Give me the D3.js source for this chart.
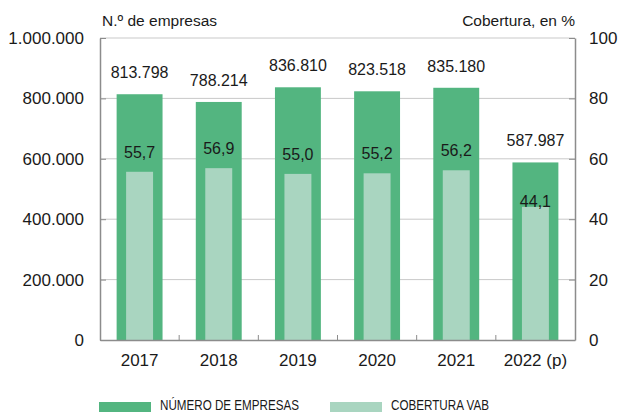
<!DOCTYPE html>
<html>
<head>
<meta charset="utf-8">
<script src="https://cdn.jsdelivr.net/npm/d3@7"></script>
<style>
  body { margin: 0; background: #fff; }
  text { font-family: "Liberation Sans", Arial, sans-serif; fill: #1a1a1a; }
</style>
</head>
<body>
<div id="chart"></div>
<script>
// Número de empresas y cobertura del VAB (%), 2017-2022
const years = ["2017", "2018", "2019", "2020", "2021", "2022 (p)"];
const empresas = [813798, 788214, 836810, 823518, 835180, 587987];
const cobertura = [55.7, 56.9, 55.0, 55.2, 56.2, 44.1];
const leftTicks = [0, 200000, 400000, 600000, 800000, 1000000];
const rightTicks = [0, 20, 40, 60, 80, 100];
const legendLabels = ["NÚMERO DE EMPRESAS", "COBERTURA VAB"];

const width = 622;
const height = 412;
const margin = { top: 38, right: 47, bottom: 72, left: 100 };

const darkGreen = "#53b580";
const lightGreen = "#a9d5c0";

const es = d3.formatLocale({ decimal: ",", thousands: ".", grouping: [3], currency: ["", " €"] });
const fmtInt = es.format(",d");
const fmtDec = es.format(".1f");

const svg = d3.select("#chart")
    .append("svg")
    .attr("width", width)
    .attr("height", height)
    .attr("viewBox", [0, 0, width, height]);

const x = d3.scaleBand()
    .domain(years)
    .range([margin.left, width - margin.right])
    .paddingInner(0.42)
    .paddingOuter(0.21);

const yLeft = d3.scaleLinear()
    .domain([0, 1000000])
    .range([height - margin.bottom, margin.top]);

const yRight = d3.scaleLinear()
    .domain([0, 100])
    .range([height - margin.bottom, margin.top]);

// gridlines
svg.append("g")
    .selectAll("line")
    .data(leftTicks.slice(1))
    .enter().append("line")
    .attr("x1", margin.left)
    .attr("x2", width - margin.right)
    .attr("y1", d => yLeft(d))
    .attr("y2", d => yLeft(d))
    .attr("stroke", "#c9c9c9")
    .attr("stroke-width", 1);

const rows = years.map((year, i) => ({ year, emp: empresas[i], cob: cobertura[i] }));

// outer bars (número de empresas)
svg.selectAll(".bar-emp")
    .data(rows)
    .enter().append("rect")
    .attr("class", "bar-emp")
    .attr("x", d => x(d.year))
    .attr("y", d => yLeft(d.emp))
    .attr("width", x.bandwidth())
    .attr("height", d => yLeft(0) - yLeft(d.emp))
    .attr("fill", darkGreen);

// inner bars (cobertura VAB)
const innerW = x.bandwidth() * 27 / 46;
svg.selectAll(".bar-cob")
    .data(rows)
    .enter().append("rect")
    .attr("class", "bar-cob")
    .attr("x", d => x(d.year) + (x.bandwidth() - innerW) / 2)
    .attr("y", d => yRight(d.cob))
    .attr("width", innerW)
    .attr("height", d => yRight(0) - yRight(d.cob))
    .attr("fill", lightGreen);

// value labels
svg.selectAll(".lbl-emp")
    .data(rows)
    .enter().append("text")
    .attr("x", d => x(d.year) + x.bandwidth() / 2)
    .attr("y", d => yLeft(d.emp) - 16)
    .attr("text-anchor", "middle")
    .style("font-size", "16px")
    .text(d => fmtInt(d.emp));

svg.selectAll(".lbl-cob")
    .data(rows)
    .enter().append("text")
    .attr("x", d => x(d.year) + x.bandwidth() / 2)
    .attr("y", d => {
        const gap = yRight(d.cob) - yLeft(d.emp);
        return yRight(d.cob) - (gap < 60 ? 0 : 14);
    })
    .attr("text-anchor", "middle")
    .style("font-size", "16px")
    .text(d => fmtDec(d.cob));

// left axis
const axisColor = "#8c8c8c";
const gLeft = svg.append("g")
    .attr("transform", `translate(${margin.left},0)`)
    .call(d3.axisLeft(yLeft).tickValues(leftTicks).tickFormat(fmtInt).tickSizeInner(-6).tickSizeOuter(0).tickPadding(16));
gLeft.select(".domain").attr("stroke", axisColor).attr("stroke-width", 1.5);
gLeft.selectAll(".tick line").attr("stroke", axisColor);
gLeft.selectAll(".tick text").style("font-size", "17px").attr("fill", "#1a1a1a").attr("font-family", null);

// right axis
const gRight = svg.append("g")
    .attr("transform", `translate(${width - margin.right},0)`)
    .call(d3.axisRight(yRight).tickValues(rightTicks).tickSizeInner(-6).tickSizeOuter(0).tickPadding(14));
gRight.select(".domain").attr("stroke", axisColor).attr("stroke-width", 1.5);
gRight.selectAll(".tick line").attr("stroke", axisColor);
gRight.selectAll(".tick text").style("font-size", "17px").attr("fill", "#1a1a1a").attr("font-family", null);

// bottom axis
const gBottom = svg.append("g")
    .attr("transform", `translate(0,${height - margin.bottom})`)
    .call(d3.axisBottom(x).tickSize(0).tickPadding(14));
gBottom.select(".domain").attr("stroke", axisColor).attr("stroke-width", 1.5);
gBottom.selectAll(".tick text").style("font-size", "17px").attr("fill", "#1a1a1a").attr("font-family", null);

// small separator ticks between categories
svg.append("g")
    .selectAll("line")
    .data(years.slice(1))
    .enter().append("line")
    .attr("x1", d => x(d) - x.step() * x.paddingInner() / 2)
    .attr("x2", d => x(d) - x.step() * x.paddingInner() / 2)
    .attr("y1", yLeft(0))
    .attr("y2", yLeft(0) - 5)
    .attr("stroke", axisColor);

// axis titles
svg.append("text")
    .attr("x", margin.left + 2)
    .attr("y", 26)
    .style("font-size", "15.5px")
    .text("N.º de empresas");

svg.append("text")
    .attr("x", width - margin.right)
    .attr("y", 26)
    .attr("text-anchor", "end")
    .style("font-size", "15.5px")
    .text("Cobertura, en %");

// legend
const legendX = [99, 330];
const legendW = [139, 98];
const legend = svg.append("g");
legendLabels.forEach((label, i) => {
    legend.append("rect")
        .attr("x", legendX[i])
        .attr("y", 402)
        .attr("width", 52)
        .attr("height", 12)
        .attr("fill", i === 0 ? darkGreen : lightGreen);
    legend.append("text")
        .attr("x", legendX[i] + 61)
        .attr("y", 410)
        .attr("textLength", legendW[i])
        .attr("lengthAdjust", "spacingAndGlyphs")
        .style("font-family", "'Liberation Sans Narrow', 'Liberation Sans', Arial, sans-serif")
        .style("font-size", "14px")
        .text(label);
});
</script>
</body>
</html>
